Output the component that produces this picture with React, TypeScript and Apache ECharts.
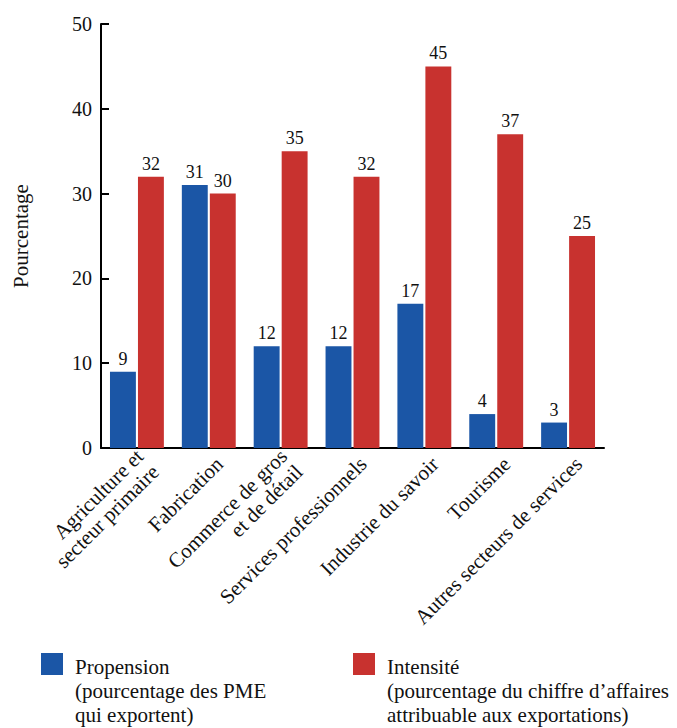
import React, { useEffect, useRef } from "react";
import * as echarts from "echarts";

const categories = [
  "Agriculture et\nsecteur primaire",
  "Fabrication",
  "Commerce de gros\net de détail",
  "Services professionnels",
  "Industrie du savoir",
  "Tourisme",
  "Autres secteurs de services",
];
const propension = [9, 31, 12, 12, 17, 4, 3];
const intensite = [32, 30, 35, 32, 45, 37, 25];
const yTicks = { min: 0, max: 50, interval: 10 };

const seriesNames = ["Propension", "Intensité"];
const legendLabels: Record<string, string> = {
  Propension: "Propension\n(pourcentage des PME\nqui exportent)",
  "Intensité": "Intensité\n(pourcentage du chiffre d’affaires\nattribuable aux exportations)",
};

const BLUE = "#1B56A6";
const RED = "#C8322F";
const FONT = '"Liberation Serif", "Times New Roman", serif';
const INK = "#111";

export default function App() {
  const ref = useRef<HTMLDivElement>(null);

  useEffect(() => {
    if (!ref.current) return;
    const chart = echarts.init(ref.current, undefined, { renderer: "svg" });

    // Legend entries: square swatch beside a three-line caption. A blank
    // spacer line above the caption drops its first line level with the swatch.
    const legendCommon = {
      orient: "horizontal" as const,
      icon: "rect",
      itemWidth: 22,
      itemHeight: 22,
      padding: 0,
      selectedMode: false,
      formatter: (name: string) => "{sp| }\n" + legendLabels[name],
      textStyle: {
        fontFamily: FONT,
        fontSize: 21,
        lineHeight: 24,
        color: INK,
        padding: [0, 0, 0, 7],
        rich: { sp: { fontSize: 4, lineHeight: 54 } },
      },
    };

    const valueLabel = {
      show: true,
      position: "top" as const,
      distance: 4,
      fontFamily: FONT,
      fontSize: 18,
      color: INK,
    };

    chart.setOption({
      animation: false,
      textStyle: { fontFamily: FONT },
      grid: { left: 101, right: 73, top: 24, bottom: 280 },
      legend: [
        { ...legendCommon, left: 41, top: 601, data: [seriesNames[0]] },
        { ...legendCommon, left: 353, top: 601, data: [seriesNames[1]] },
      ],
      xAxis: {
        type: "category",
        data: categories,
        axisLine: { lineStyle: { color: "#000", width: 2 } },
        axisTick: { inside: true, length: 8, lineStyle: { color: "#000", width: 2 } },
        axisLabel: {
          rotate: 45,
          interval: 0,
          margin: 2,
          fontFamily: FONT,
          fontSize: 21,
          lineHeight: 22,
          color: INK,
          // leading spacer line nudges the slanted labels away from the axis
          formatter: (v: string) => "{sp| }\n" + v,
          rich: { sp: { fontSize: 4, lineHeight: 30 } },
        },
      },
      yAxis: {
        type: "value",
        min: yTicks.min,
        max: yTicks.max,
        interval: yTicks.interval,
        name: "Pourcentage",
        nameLocation: "middle",
        nameGap: 70,
        nameRotate: 90,
        nameTextStyle: { fontFamily: FONT, fontSize: 21, color: INK },
        axisLine: { show: true, lineStyle: { color: "#000", width: 2 } },
        axisTick: { show: true, inside: true, length: 8, lineStyle: { color: "#000", width: 2 } },
        splitLine: { show: false },
        axisLabel: { fontFamily: FONT, fontSize: 20, color: INK, margin: 9 },
      },
      series: [
        {
          name: seriesNames[0],
          type: "bar",
          data: propension,
          barGap: "8%",
          barCategoryGap: "25%",
          itemStyle: { color: BLUE },
          label: valueLabel,
        },
        {
          name: seriesNames[1],
          type: "bar",
          data: intensite,
          itemStyle: { color: RED },
          label: valueLabel,
        },
      ],
    });

    return () => chart.dispose();
  }, []);

  return (
    <div
      ref={ref}
      style={{ position: "absolute", left: 0, top: 0, width: 677, height: 728 }}
    />
  );
}
